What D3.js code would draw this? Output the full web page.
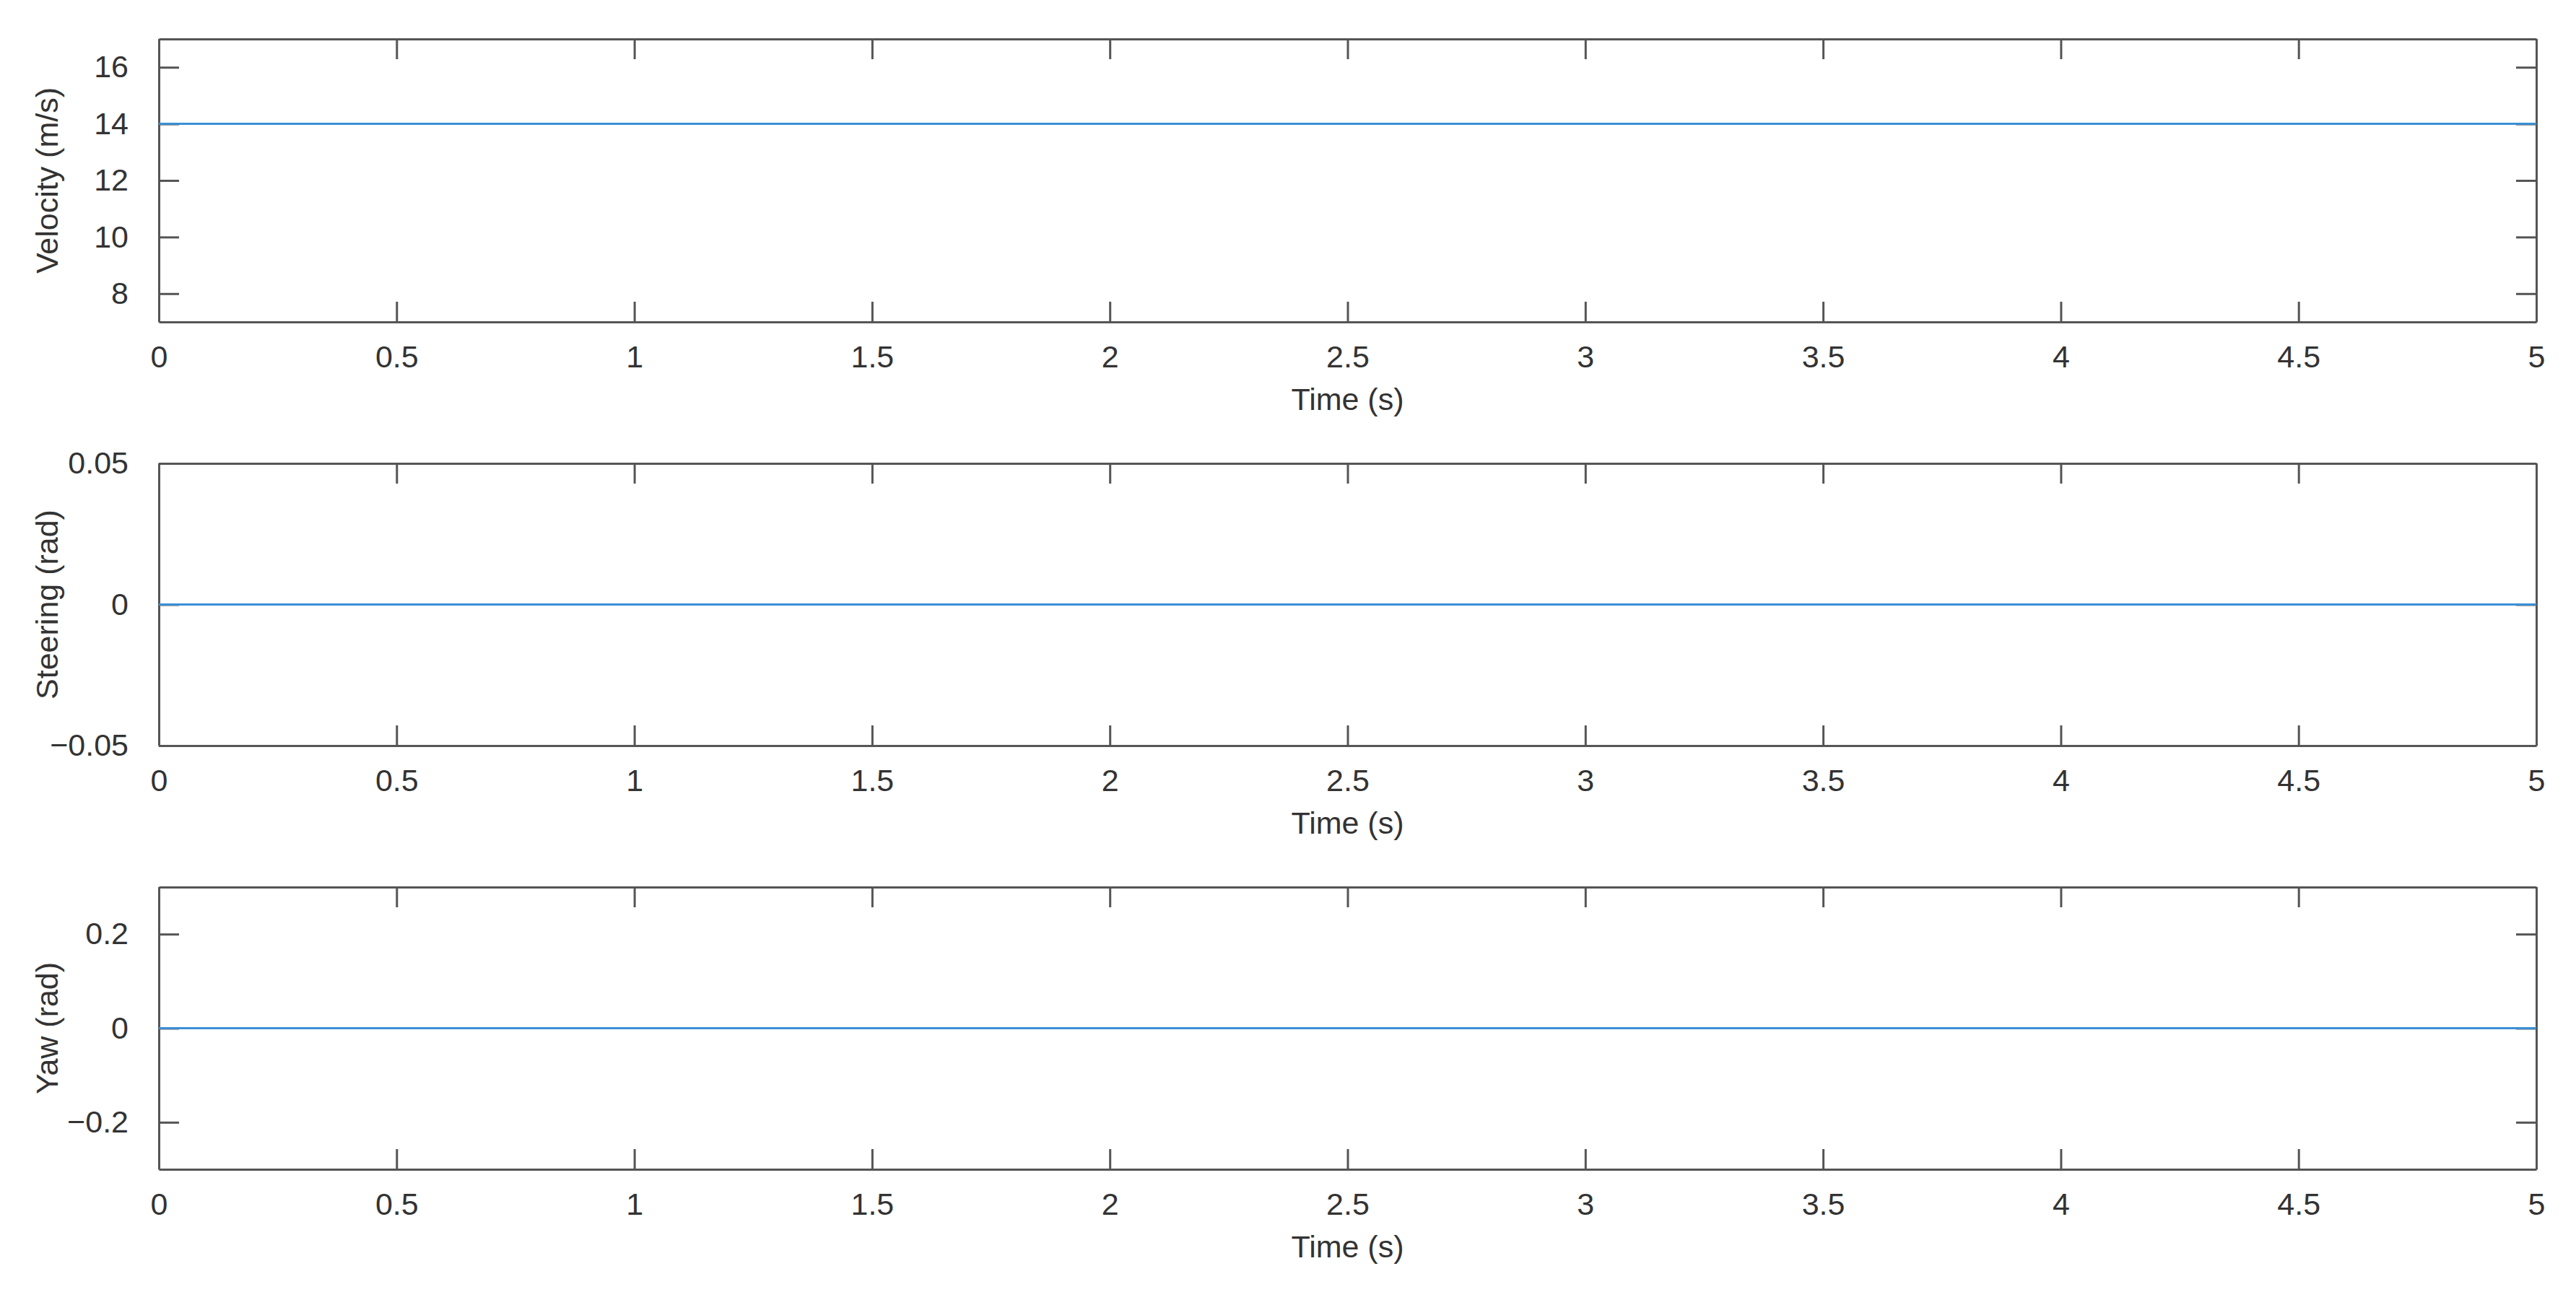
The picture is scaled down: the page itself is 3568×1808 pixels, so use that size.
<!DOCTYPE html>
<html><head><meta charset="utf-8">
<script src="https://cdn.jsdelivr.net/npm/d3@7"></script>
<style>body{margin:0;background:#fff}text{font-family:Arial,"Liberation Sans",sans-serif}</style>
</head><body><svg id="c" width="3568" height="1808"></svg>
<script>
const time = [0, 1, 2, 3, 4, 5];
const velocity = [14, 14, 14, 14, 14, 14];
const steering = [0, 0, 0, 0, 0, 0];
const yaw = [0, 0, 0, 0, 0, 0];
const xTicks = [0, 0.5, 1, 1.5, 2, 2.5, 3, 3.5, 4, 4.5, 5];
const velTicks = [8, 10, 12, 14, 16];
const steerTicks = [-0.05, 0, 0.05];
const yawTicks = [-0.2, 0, 0.2];
const panels = [
  {label:"Velocity (m/s)", vals:velocity, dom:[7,17], ticks:velTicks, top:54, bot:446},
  {label:"Steering (rad)", vals:steering, dom:[-0.05,0.05], ticks:steerTicks, top:642, bot:1033},
  {label:"Yaw (rad)", vals:yaw, dom:[-0.3,0.3], ticks:yawTicks, top:1229, bot:1620}
];
const svg = d3.select("#c");
const L = 220, R = 3513, axc = "#555", txc = "#333", fs = 43, tl = 28;
const x = d3.scaleLinear().domain([0,5]).range([L,R]);
const fmt = v => { const s = String(Math.abs(v)); return v < 0 ? "\u2212" + s : s; };
panels.forEach(p => {
  const y = d3.scaleLinear().domain(p.dom).range([p.bot,p.top]);
  const g = svg.append("g");
  const ax = [
    {a:d3.axisBottom(x).tickValues(xTicks).tickSizeInner(-tl).tickSizeOuter(0).tickFormat(d=>d).tickPadding(tl+4), t:`translate(0,${p.bot})`},
    {a:d3.axisTop(x).tickValues(xTicks).tickSizeInner(-tl).tickSizeOuter(0).tickFormat(""), t:`translate(0,${p.top})`},
    {a:d3.axisLeft(y).tickValues(p.ticks).tickSizeInner(-tl).tickSizeOuter(0).tickFormat(fmt).tickPadding(tl+14), t:`translate(${L},0)`},
    {a:d3.axisRight(y).tickValues(p.ticks).tickSizeInner(-tl).tickSizeOuter(0).tickFormat(""), t:`translate(${R},0)`}
  ];
  ax.forEach(o => {
    const ag = g.append("g").attr("transform", o.t).call(o.a);
    ag.select(".domain").attr("stroke", axc).attr("stroke-width", 3);
    ag.selectAll(".tick line").attr("stroke", axc).attr("stroke-width", 3);
    ag.selectAll(".tick text").attr("fill", txc).style("font-size", fs+"px");
  });
  const line = d3.line().x((d,i)=>x(time[i])).y(d=>y(d));
  g.append("path").datum(p.vals).attr("d", line).attr("fill","none").attr("stroke","#3a8fd6").attr("stroke-width",3);
  g.append("text").attr("x",(L+R)/2).attr("y",p.bot+122).attr("text-anchor","middle").attr("fill",txc).style("font-size",fs+"px").text("Time (s)");
  g.append("text").attr("transform",`translate(80,${(p.top+p.bot)/2}) rotate(-90)`).attr("text-anchor","middle").attr("fill",txc).style("font-size",fs+"px").text(p.label);
});
</script></body></html>
